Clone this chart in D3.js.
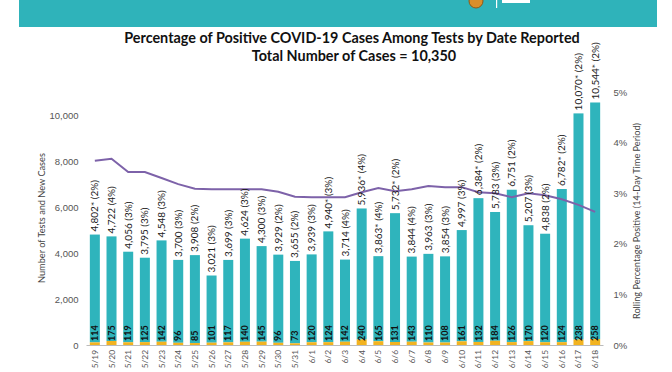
<!DOCTYPE html>
<html>
<head>
<meta charset="utf-8">
<script src="https://cdn.jsdelivr.net/npm/d3@7"></script>
<style>
  body { margin: 0; background: #fff; }
  svg { display: block; font-family: Lato, "Open Sans", sans-serif; }
  .title { font-weight: bold; fill: #111; }
  .axis-label { fill: #444; font-size: 9.2px; }
  .tick text { fill: #555; font-size: 9.5px; }
</style>
</head>
<body>
<svg width="672" height="372"></svg>
<script>
  const dates = ['5/19','5/20','5/21','5/22','5/23','5/24','5/25','5/26','5/27','5/28','5/29','5/30','5/31',
    '6/1','6/2','6/3','6/4','6/5','6/6','6/7','6/8','6/9','6/10','6/11','6/12','6/13','6/14','6/15','6/16','6/17','6/18'];
  const tests = [4802, 4722, 4056, 3795, 4548, 3700, 3908, 3021, 3699, 4624, 4300, 3929, 3655,
    3939, 4940, 3714, 5936, 3863, 5732, 3844, 3963, 3854, 4997, 6384, 5783, 6751, 5207, 4838, 6782, 10070, 10544];
  const testLabels = ['4,802* (2%)','4,722 (4%)','4,056 (3%)','3,795 (3%)','4,548 (3%)','3,700 (3%)','3,908 (2%)',
    '3,021 (3%)','3,699 (3%)','4,624 (3%)','4,300 (3%)','3,929 (2%)','3,655 (2%)','3,939 (3%)','4,940* (3%)',
    '3,714 (4%)','5,936* (4%)','3,863* (4%)','5,732* (2%)','3,844 (4%)','3,963 (3%)','3,854 (3%)','4,997 (3%)',
    '6,384* (2%)','5,783 (3%)','6,751 (2%)','5,207 (3%)','4,838 (2%)','6,782* (2%)','10,070* (2%)','10,544* (2%)'];
  const cases = [114, 175, 119, 125, 142, 96, 85, 101, 117, 140, 145, 96, 73,
    120, 124, 142, 240, 165, 131, 143, 110, 108, 161, 132, 184, 126, 170, 120, 124, 238, 258];
  const rolling = [3.64, 3.68, 3.42, 3.42, 3.30, 3.18, 3.09, 3.08, 3.08, 3.08, 3.08, 3.03, 2.93,
    2.92, 2.92, 2.92, 3.02, 3.10, 3.04, 3.08, 3.14, 3.12, 3.12, 3.02, 3.00, 2.92, 3.00, 2.96, 2.88, 2.77, 2.63];
  const leftTicks = [0, 2000, 4000, 6000, 8000, 10000];
  const rightTicks = [0, 1, 2, 3, 4, 5];

  const svg = d3.select('svg');
  const teal = '#2fb4bc';
  const orange = '#f2b320';
  const purple = '#7d62a9';

  // header banner
  svg.append('rect').attr('x', 19).attr('y', 0).attr('width', 638).attr('height', 27).attr('fill', '#2fb3ba');
  svg.append('circle').attr('cx', 476).attr('cy', 1).attr('r', 7).attr('fill', '#d98e2a').attr('stroke', '#8a5a1a');
  svg.append('rect').attr('x', 496).attr('y', 0).attr('width', 1.2).attr('height', 8).attr('fill', '#fff');
  svg.append('rect').attr('x', 502).attr('y', 0).attr('width', 28).attr('height', 3).attr('fill', '#fff');

  svg.append('text').attr('class', 'title').attr('x', 352).attr('y', 43)
    .attr('text-anchor', 'middle').attr('font-size', 14.4)
    .text('Percentage of Positive COVID-19 Cases Among Tests by Date Reported');
  svg.append('text').attr('class', 'title').attr('x', 354).attr('y', 61)
    .attr('text-anchor', 'middle').attr('font-size', 14.4)
    .text('Total Number of Cases = 10,350');

  const x0 = 86.5, x1 = 603.5, yTop = 92, yBottom = 345;

  const xScale = d3.scaleBand().domain(dates).range([x0, x1]).paddingInner(0.4).paddingOuter(0.2);
  const yScale = d3.scaleLinear().domain([0, 11000]).range([yBottom, yTop]);
  const yRight = d3.scaleLinear().domain([0, 5]).range([yBottom, yTop]);

  const rows = dates.map((d, i) => ({ date: d, tests: tests[i], label: testLabels[i], cases: cases[i], pct: rolling[i] }));

  // axes
  const yAxisG = svg.append('g').attr('transform', `translate(${x0 - 6},0)`)
    .call(d3.axisLeft(yScale).tickValues(leftTicks).tickSize(0).tickPadding(2).tickFormat(d3.format(',')));
  yAxisG.select('.domain').remove();

  const yRightG = svg.append('g').attr('transform', `translate(${x1 + 8},0)`)
    .call(d3.axisRight(yRight).tickValues(rightTicks).tickSize(0).tickPadding(2).tickFormat(d => d + '%'));
  yRightG.select('.domain').remove();

  svg.append('line').attr('x1', x0).attr('x2', x1).attr('y1', yBottom + 0.5).attr('y2', yBottom + 0.5)
    .attr('stroke', '#bbb').attr('stroke-width', 1);

  svg.append('g').selectAll('text').data(dates).join('text')
    .attr('transform', d => `translate(${xScale(d) + xScale.bandwidth() / 2 + 3},${yBottom + 5}) rotate(-90)`)
    .attr('text-anchor', 'end').attr('font-size', 8.4).attr('fill', '#555')
    .text(d => d);

  svg.append('text').attr('class', 'axis-label')
    .attr('transform', `translate(45,218) rotate(-90)`).attr('text-anchor', 'middle')
    .text('Number of Tests and New Cases');
  svg.append('text').attr('class', 'axis-label')
    .attr('transform', `translate(640,221) rotate(-90)`).attr('text-anchor', 'middle')
    .text('Rolling Percentage Positive (14-Day Time Period)');

  // bars
  const bars = svg.append('g');
  bars.selectAll('rect.t').data(rows).join('rect').attr('class', 't')
    .attr('x', d => xScale(d.date)).attr('width', xScale.bandwidth())
    .attr('y', d => yScale(d.tests)).attr('height', d => yScale(d.cases) - yScale(d.tests))
    .attr('fill', teal);
  bars.selectAll('rect.c').data(rows).join('rect').attr('class', 'c')
    .attr('x', d => xScale(d.date)).attr('width', xScale.bandwidth())
    .attr('y', d => yScale(d.cases)).attr('height', d => yBottom - yScale(d.cases))
    .attr('fill', orange);

  // line
  const line = d3.line().x(d => xScale(d.date) + xScale.bandwidth() / 2).y(d => yRight(d.pct));
  svg.append('path').datum(rows).attr('d', line)
    .attr('fill', 'none').attr('stroke', purple).attr('stroke-width', 2);

  // labels
  svg.append('g').selectAll('text').data(rows).join('text')
    .attr('transform', d => `translate(${xScale(d.date) + xScale.bandwidth() / 2 + 3.5},${yScale(d.tests) - 3}) rotate(-90)`)
    .attr('font-size', 10).attr('fill', '#1a1a1a')
    .text(d => d.label);
  svg.append('g').selectAll('text').data(rows).join('text')
    .attr('transform', d => `translate(${xScale(d.date) + xScale.bandwidth() / 2 + 3.2},${yBottom - 4}) rotate(-90)`)
    .attr('font-size', 9).attr('font-weight', 'bold').attr('fill', '#111')
    .text(d => d.cases);
</script>
</body>
</html>
